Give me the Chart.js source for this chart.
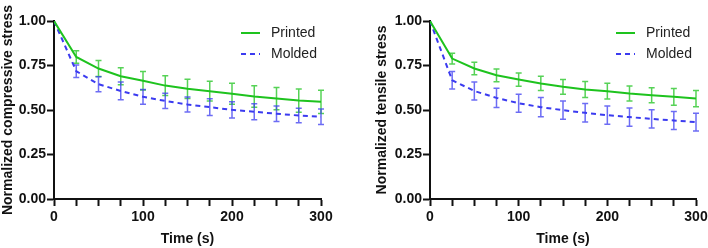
<!DOCTYPE html>
<html>
<head>
<meta charset="utf-8">
<script src="https://cdn.jsdelivr.net/npm/chart.js@4.4.1/dist/chart.umd.min.js"></script>
<style>
    html, body { margin: 0; padding: 0; background: #fff; }
    #wrap { display: flex; width: 708px; height: 248px; }
    .panel { position: relative; width: 354px; height: 248px; }
</style>
</head>
<body>
<div id="wrap">
    <div class="panel"><canvas id="compressive"></canvas></div>
    <div class="panel"><canvas id="tensile"></canvas></div>
</div>
<script>
// time points (s)
const times = [0, 25, 50, 75, 100, 125, 150, 175, 200, 225, 250, 275, 300];
const yTicks = [0, 0.25, 0.5, 0.75, 1];
const xLabels = [0, 100, 200, 300];

// compressive
const compPrinted = [1.0, 0.798, 0.733, 0.690, 0.664, 0.637, 0.619, 0.606, 0.591, 0.576, 0.564, 0.553, 0.546];
const compPrintedErr = [0, 0.035, 0.045, 0.048, 0.052, 0.056, 0.054, 0.056, 0.059, 0.060, 0.063, 0.065, 0.065];
const compMolded = [1.0, 0.718, 0.645, 0.607, 0.574, 0.551, 0.531, 0.516, 0.501, 0.490, 0.479, 0.469, 0.462];
const compMoldedErr = [0, 0.035, 0.042, 0.050, 0.041, 0.043, 0.042, 0.047, 0.046, 0.045, 0.043, 0.041, 0.044];

// tensile
const tensPrinted = [1.0, 0.789, 0.733, 0.695, 0.671, 0.649, 0.630, 0.615, 0.606, 0.593, 0.583, 0.574, 0.564];
const tensPrintedErr = [0, 0.030, 0.035, 0.036, 0.037, 0.040, 0.042, 0.045, 0.044, 0.042, 0.042, 0.047, 0.046];
const tensMolded = [1.0, 0.667, 0.607, 0.568, 0.538, 0.516, 0.499, 0.484, 0.471, 0.460, 0.450, 0.441, 0.432];
const tensMoldedErr = [0, 0.049, 0.051, 0.054, 0.050, 0.054, 0.051, 0.052, 0.051, 0.051, 0.051, 0.051, 0.050];

const green = '#1ec31e';
const blue = '#3b3bf0';
const font = 'Liberation Sans, Arial, sans-serif';

// error bars drawn through the scales
const errorBars = {
    id: 'errorBars',
    beforeDatasetsDraw(chart) {
        const ctx = chart.ctx;
        const xs = chart.scales.x, ys = chart.scales.y;
        chart.data.datasets.forEach(ds => {
            if (!ds.errors) return;
            ctx.save();
            ctx.strokeStyle = ds.errorColor;
            ctx.lineWidth = 1.5;
            ds.data.forEach((p, i) => {
                const e = ds.errors[i];
                if (!e) return;
                const x = xs.getPixelForValue(p.x);
                const yt = ys.getPixelForValue(p.y + e);
                const yb = ys.getPixelForValue(p.y - e);
                ctx.beginPath();
                ctx.moveTo(x, yt); ctx.lineTo(x, yb);
                ctx.moveTo(x - 3, yt); ctx.lineTo(x + 3, yt);
                ctx.moveTo(x - 3, yb); ctx.lineTo(x + 3, yb);
                ctx.stroke();
            });
            ctx.restore();
        });
    }
};

// small legend, lines + text
const sideLegend = {
    id: 'sideLegend',
    afterDraw(chart) {
        const o = chart.options.plugins.sideLegend;
        const ctx = chart.ctx;
        chart.data.datasets.forEach((ds, i) => {
            const y = o.y + i * 21;
            ctx.save();
            ctx.strokeStyle = ds.borderColor;
            ctx.lineWidth = 2;
            ctx.setLineDash(ds.borderDash || []);
            ctx.beginPath();
            ctx.moveTo(o.x, y);
            ctx.lineTo(o.x + 19, y);
            ctx.stroke();
            ctx.setLineDash([]);
            ctx.fillStyle = '#222';
            ctx.font = '14px ' + font;
            ctx.textBaseline = 'middle';
            ctx.fillText(ds.label, o.x + 30, y);
            ctx.restore();
        });
    }
};

function makeChart(id, title, printed, printedErr, molded, moldedErr, yWidth, titlePad, legendX) {
    const ctx = document.getElementById(id).getContext('2d');
    return new Chart(ctx, {
        type: 'line',
        data: {
            datasets: [{
                label: 'Printed',
                data: times.map((t, i) => ({ x: t, y: printed[i] })),
                errors: printedErr,
                errorColor: 'rgba(30,195,30,0.75)',
                borderColor: green,
                borderWidth: 2,
                pointRadius: 0,
                tension: 0
            }, {
                label: 'Molded',
                data: times.map((t, i) => ({ x: t, y: molded[i] })),
                errors: moldedErr,
                errorColor: 'rgba(59,59,240,0.75)',
                borderColor: blue,
                borderDash: [5, 4],
                borderWidth: 2,
                pointRadius: 0,
                tension: 0
            }]
        },
        options: {
            responsive: false,
            animation: false,
            layout: { padding: { top: 21, right: id === 'compressive' ? 33 : 12, left: 0, bottom: 0 } },
            plugins: {
                legend: { display: false },
                tooltip: { enabled: false },
                sideLegend: { x: legendX, y: 33 }
            },
            scales: {
                x: {
                    type: 'linear',
                    min: 0, max: 300,
                    afterFit: s => { s.height = 49; s.paddingLeft = 0; s.paddingRight = 0; },
                    afterBuildTicks: s => { s.ticks = times.map(v => ({ value: v })); },
                    border: { color: '#111', width: 2 },
                    grid: { drawOnChartArea: false, drawTicks: true, tickLength: 7, tickWidth: 2, tickColor: '#111' },
                    ticks: {
                        autoSkip: false, maxRotation: 0, padding: 3,
                        color: '#111',
                        font: { family: font, size: 14, weight: 'bold' },
                        callback: v => xLabels.includes(v) ? String(v) : ''
                    },
                    title: {
                        display: true, text: 'Time (s)', color: '#111',
                        padding: { top: 2, bottom: 0 },
                        font: { family: font, size: 14, weight: 'bold' }
                    }
                },
                y: {
                    min: 0, max: 1,
                    afterFit: s => { s.width = yWidth; s.paddingTop = 0; s.paddingBottom = 0; },
                    afterBuildTicks: s => { s.ticks = yTicks.map(v => ({ value: v })); },
                    border: { color: '#111', width: 2 },
                    grid: { drawOnChartArea: false, drawTicks: true, tickLength: 7, tickWidth: 2, tickColor: '#111' },
                    ticks: {
                        padding: 1, color: '#111',
                        font: { family: font, size: 14, weight: 'bold' },
                        callback: v => v.toFixed(2)
                    },
                    title: {
                        display: true, text: title, color: '#111',
                        padding: { top: titlePad, bottom: 0 },
                        font: { family: font, size: 14, weight: 'bold' }
                    }
                }
            }
        },
        plugins: [errorBars, sideLegend]
    });
}

document.getElementById('compressive').width = 354;
document.getElementById('compressive').height = 248;
document.getElementById('tensile').width = 354;
document.getElementById('tensile').height = 248;

makeChart('compressive', 'Normalized compressive stress', compPrinted, compPrintedErr, compMolded, compMoldedErr, 54, 0, 241);
makeChart('tensile', 'Normalized tensile stress', tensPrinted, tensPrintedErr, tensMolded, tensMoldedErr, 76, 20, 262);
</script>
</body>
</html>
